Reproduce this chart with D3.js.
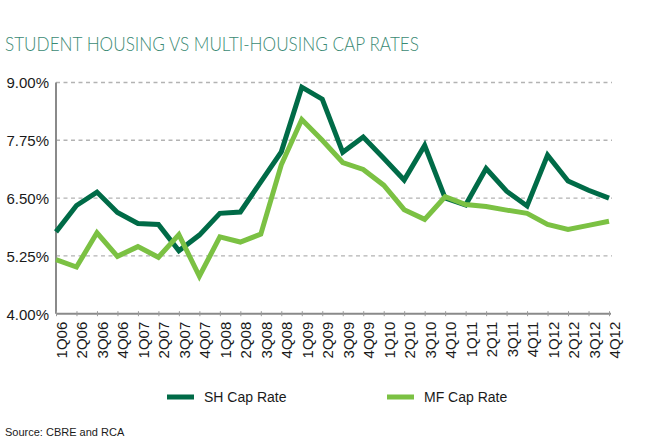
<!DOCTYPE html>
<html>
<head>
<meta charset="utf-8">
<script src="https://cdn.jsdelivr.net/npm/d3@7"></script>
<style>
    body { margin: 0; background: #fff; }
    text { font-family: "Liberation Sans", Arial, sans-serif; fill: #1a1a1a; }
</style>
</head>
<body>
<div class="chart"></div>
<script>
var svgWidth = 651;
var svgHeight = 445;

// quarters on the x axis
var quarters = ["1Q06", "2Q06", "3Q06", "4Q06", "1Q07", "2Q07", "3Q07", "4Q07",
    "1Q08", "2Q08", "3Q08", "4Q08", "1Q09", "2Q09", "3Q09", "4Q09",
    "1Q10", "2Q10", "3Q10", "4Q10", "1Q11", "2Q11", "3Q11", "4Q11",
    "1Q12", "2Q12", "3Q12", "4Q12"];

// cap rates in %
var shCapRate = [5.77, 6.34, 6.63, 6.19, 5.95, 5.93, 5.36, 5.70, 6.17, 6.20, 6.85, 7.50,
    8.90, 8.64, 7.49, 7.82, 7.36, 6.89, 7.64, 6.50, 6.35, 7.14, 6.65, 6.33,
    7.43, 6.87, 6.67, 6.50];
var mfCapRate = [5.17, 5.01, 5.75, 5.24, 5.45, 5.22, 5.71, 4.81, 5.66, 5.55, 5.72, 7.22,
    8.20, 7.75, 7.27, 7.12, 6.78, 6.25, 6.04, 6.53, 6.36, 6.32, 6.24, 6.17,
    5.93, 5.82, 5.91, 6.00];

var yTicks = [4.00, 5.25, 6.50, 7.75, 9.00];
var seriesNames = ["SH Cap Rate", "MF Cap Rate"];

var colors = { sh: "#006b47", mf: "#7bc143" };

var plot = { left: 56, right: 609, top: 82.5, bottom: 313.7 };

var svg = d3.select(".chart")
    .append("svg")
    .attr("width", svgWidth)
    .attr("height", svgHeight);

svg.append("rect")
    .attr("width", svgWidth)
    .attr("height", svgHeight)
    .attr("fill", "#fff");

// title
svg.append("text")
    .attr("x", 5)
    .attr("y", 51)
    .attr("textLength", 414)
    .attr("lengthAdjust", "spacingAndGlyphs")
    .style("font-family", "Lato, 'Open Sans', sans-serif")
    .style("font-weight", 300)
    .style("font-size", "20px")
    .style("fill", "#3b8a74")
    .text("STUDENT HOUSING VS MULTI-HOUSING CAP RATES");

var xScale = d3.scalePoint()
    .domain(quarters)
    .range([plot.left, plot.right]);

var yScale = d3.scaleLinear()
    .domain([4, 9])
    .range([plot.bottom, plot.top]);

// dashed gridlines
svg.append("g")
    .selectAll("line")
    .data(yTicks.filter(d => d > 4))
    .enter()
    .append("line")
    .attr("x1", plot.left)
    .attr("x2", plot.right + 3)
    .attr("y1", d => yScale(d))
    .attr("y2", d => yScale(d))
    .attr("stroke", "#b3b3b3")
    .attr("stroke-width", 1.4)
    .attr("stroke-dasharray", "4,3.5");

// y axis
var leftAxis = d3.axisLeft(yScale)
    .tickValues(yTicks)
    .tickFormat(d => d.toFixed(2) + "%")
    .tickSize(0)
    .tickPadding(7);

var yAxis = svg.append("g")
    .attr("transform", `translate(${plot.left}, 0)`)
    .call(leftAxis);

yAxis.select(".domain").remove();
yAxis.selectAll("text")
    .style("font-size", "15px")
    .attr("dy", "0.36em");

svg.append("line")
    .attr("x1", plot.left)
    .attr("x2", plot.left)
    .attr("y1", plot.top)
    .attr("y2", plot.bottom)
    .attr("stroke", "#8a8a8a")
    .attr("stroke-width", 2);

// x axis
var bottomAxis = d3.axisBottom(xScale)
    .tickSizeInner(3)
    .tickSizeOuter(0);

var xAxis = svg.append("g")
    .attr("transform", `translate(0, ${plot.bottom})`)
    .call(bottomAxis);

xAxis.select(".domain")
    .attr("stroke", "#8a8a8a")
    .attr("stroke-width", 2)
    .attr("d", `M${plot.left},0H${plot.right + 2}`);

xAxis.selectAll(".tick line")
    .attr("y1", -2.5)
    .attr("y2", 2.5)
    .attr("stroke", "#9a9a9a");

xAxis.selectAll(".tick text")
    .attr("transform", "rotate(-90)")
    .attr("text-anchor", "end")
    .attr("x", -8)
    .attr("y", 0)
    .attr("dy", "0.7em")
    .style("font-size", "15px");

// lines
var line = d3.line()
    .x((d, i) => xScale(quarters[i]))
    .y(d => yScale(d));

svg.append("path")
    .datum(shCapRate)
    .attr("d", line)
    .attr("fill", "none")
    .attr("stroke", colors.sh)
    .attr("stroke-width", 5);

svg.append("path")
    .datum(mfCapRate)
    .attr("d", line)
    .attr("fill", "none")
    .attr("stroke", colors.mf)
    .attr("stroke-width", 5);

// legend
var legendX = [167, 387];
var legendColors = [colors.sh, colors.mf];

var legend = svg.append("g")
    .selectAll("g")
    .data(seriesNames)
    .enter()
    .append("g")
    .attr("transform", (d, i) => `translate(${legendX[i]}, 397)`);

legend.append("rect")
    .attr("x", 0)
    .attr("y", -2.5)
    .attr("width", 27)
    .attr("height", 5)
    .attr("fill", (d, i) => legendColors[i]);

legend.append("text")
    .attr("x", 37)
    .attr("y", 0)
    .attr("dy", "0.35em")
    .style("font-size", "14px")
    .text(d => d);

// source note
svg.append("text")
    .attr("x", 5)
    .attr("y", 436)
    .style("font-size", "11px")
    .text("Source: CBRE and RCA");
</script>
</body>
</html>
